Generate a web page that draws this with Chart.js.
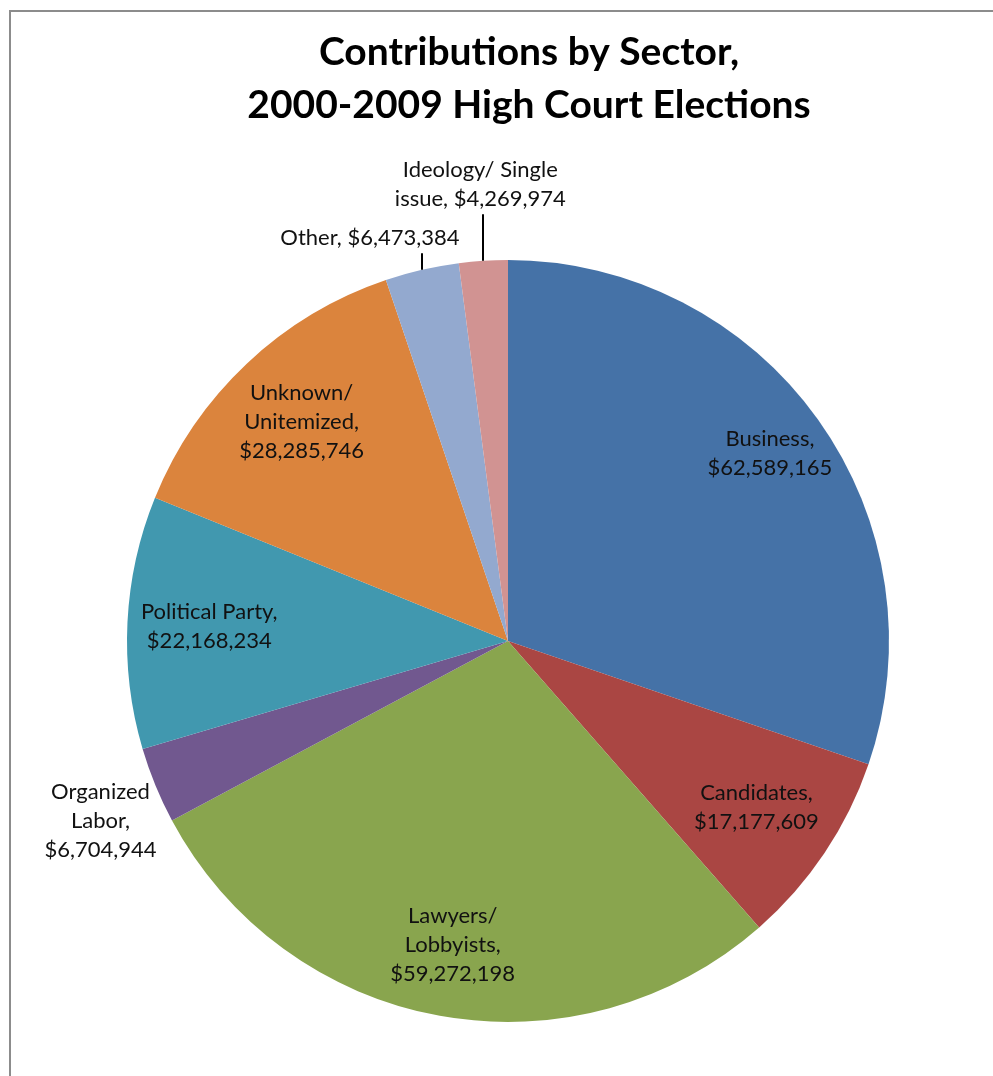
<!DOCTYPE html>
<html>
<head>
<meta charset="utf-8">
<title>Contributions by Sector, 2000-2009 High Court Elections</title>
<script src="https://cdn.jsdelivr.net/npm/chart.js@4/dist/chart.umd.min.js"></script>
<style>
  html, body { margin: 0; padding: 0; background: #ffffff; }
  #chart { display: block; }
</style>
</head>
<body>
<canvas id="chart" width="993" height="1076"></canvas>
<script>
// Sectors, clockwise from 12 o'clock
const sectors = [
  'Business',
  'Candidates',
  'Lawyers/ Lobbyists',
  'Organized Labor',
  'Political Party',
  'Unknown/ Unitemized',
  'Other',
  'Ideology/ Single issue'
];

// Contributions in dollars
const contributions = [
  62589165,
  17177609,
  59272198,
  6704944,
  22168234,
  28285746,
  6473384,
  4269974
];

const titleLines = ['Contributions by Sector,', '2000-2009 High Court Elections'];

// Slice colours (Office 2007 palette)
const sliceColors = ['#4572A7', '#AA4643', '#89A54E', '#71588F', '#4198AF', '#DB843D', '#93A9CF', '#D19392'];

// Label placement per slice:
//  inside: radial fraction along the slice bisector
//  outside: offset of the text block centre from the slice's outer edge point
const labelPlacement = [
  { mode: 'inside', r: 0.845, wrap: 135 },
  { mode: 'inside', r: 0.785, wrap: 135 },
  { mode: 'inside', r: 0.81, wrap: 135 },
  { mode: 'outside', dx: -55, dy: 35, wrap: 118, leader: false },
  { mode: 'inside', r: 0.785, wrap: 160 },
  { mode: 'inside', r: 0.79, wrap: 135 },
  { mode: 'outside', dx: -52, dy: -32, wrap: 400, leader: true },
  { mode: 'outside', dx: -3, dy: -76.5, wrap: 195, leader: true }
];

const LABEL_FONT = '22px Lato, Carlito, Calibri, sans-serif';
const LABEL_LINE = 29;
const TITLE_FONT = 'bold 39px Lato, Carlito, Calibri, sans-serif';

function money(v) {
  return '$' + v.toLocaleString('en-US');
}

function wrapText(ctx, text, maxWidth) {
  const words = text.split(' ');
  const lines = [];
  let cur = '';
  words.forEach(w => {
    const test = cur ? cur + ' ' + w : w;
    if (cur && ctx.measureText(test).width > maxWidth) {
      lines.push(cur);
      cur = w;
    } else {
      cur = test;
    }
  });
  if (cur) lines.push(cur);
  return lines;
}

// Frame and title
const framePlugin = {
  id: 'frameAndTitle',
  beforeDraw(chart) {
    const ctx = chart.ctx;
    ctx.save();
    ctx.fillStyle = '#ffffff';
    ctx.fillRect(0, 0, chart.width, chart.height);
    ctx.strokeStyle = '#8c8c8c';
    ctx.lineWidth = 2;
    ctx.beginPath();
    ctx.moveTo(chart.width + 5, 11);
    ctx.lineTo(10, 11);
    ctx.lineTo(10, chart.height + 5);
    ctx.stroke();

    ctx.fillStyle = '#000000';
    ctx.font = TITLE_FONT;
    ctx.textAlign = 'center';
    ctx.textBaseline = 'middle';
    titleLines.forEach((t, i) => ctx.fillText(t, 529, 52 + i * 53));
    ctx.restore();
  }
};

// Data labels drawn from each arc's geometry
const sliceLabelPlugin = {
  id: 'sliceLabels',
  afterDatasetsDraw(chart) {
    const ctx = chart.ctx;
    const meta = chart.getDatasetMeta(0);
    ctx.save();
    ctx.font = LABEL_FONT;
    ctx.fillStyle = '#111111';
    ctx.textAlign = 'center';
    ctx.textBaseline = 'middle';
    meta.data.forEach((arc, i) => {
      const p = arc.getProps(['x', 'y', 'startAngle', 'endAngle', 'outerRadius'], true);
      const mid = (p.startAngle + p.endAngle) / 2;
      const place = labelPlacement[i];
      const text = sectors[i] + ', ' + money(contributions[i]);
      const lines = wrapText(ctx, text, place.wrap);
      const blockH = lines.length * LABEL_LINE;
      let cx, cy;
      if (place.mode === 'inside') {
        cx = p.x + Math.cos(mid) * p.outerRadius * place.r;
        cy = p.y + Math.sin(mid) * p.outerRadius * place.r;
      } else {
        const ex = p.x + Math.cos(mid) * p.outerRadius;
        const ey = p.y + Math.sin(mid) * p.outerRadius;
        cx = ex + place.dx;
        cy = ey + place.dy;
        if (place.leader) {
          ctx.save();
          ctx.strokeStyle = '#000000';
          ctx.lineWidth = 2;
          ctx.beginPath();
          ctx.moveTo(Math.round(ex), ey);
          ctx.lineTo(Math.round(ex), cy + blockH / 2 + 1);
          ctx.stroke();
          ctx.restore();
        }
      }
      lines.forEach((ln, k) => {
        ctx.fillText(ln, cx, cy - blockH / 2 + LABEL_LINE / 2 + k * LABEL_LINE);
      });
    });
    ctx.restore();
  }
};

new Chart(document.getElementById('chart'), {
  type: 'pie',
  data: {
    labels: sectors,
    datasets: [{
      data: contributions,
      backgroundColor: sliceColors,
      borderWidth: 0
    }]
  },
  options: {
    responsive: false,
    devicePixelRatio: 1,
    animation: false,
    events: [],
    layout: { padding: { left: 127, right: 104, top: 260, bottom: 54 } },
    plugins: {
      legend: { display: false },
      title: { display: false },
      tooltip: { enabled: false }
    }
  },
  plugins: [framePlugin, sliceLabelPlugin]
});
</script>
</body>
</html>
